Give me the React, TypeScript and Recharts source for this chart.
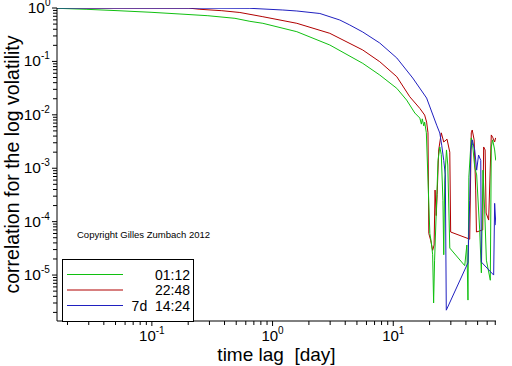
import { LineChart, Line, XAxis, YAxis, Legend } from "recharts";

const FONT = "'Liberation Sans', Arial, sans-serif";

// time lag [day] and correlation values, per series
const lag0112 = [0.01637, 0.0285, 0.0524, 0.0984, 0.171, 0.291, 0.488, 0.649, 0.831, 1.589, 2.98, 5.59, 7.73, 10.7, 12.9, 15.1, 16.6, 17.1, 17.4, 17.9, 18.2, 18.8, 20.1, 20.7, 21.2, 21.6, 22.0, 22.7, 23.5, 24.3, 25.0, 25.8, 26.2, 26.7, 27.6, 28.3, 29.4, 39.1, 40.7, 41.6, 42.3, 44.3, 45.5, 47.3, 49.1, 52.0, 53.7, 55.4, 57.2, 59.1, 63.7, 64.9, 66.6, 69.2, 70.6];
const corr0112 = [0.987, 0.946, 0.89, 0.831, 0.772, 0.717, 0.641, 0.563, 0.517, 0.36, 0.203, 0.092, 0.0556, 0.0313, 0.0189, 0.0108, 0.0087, 0.0067, 0.0084, 0.0062, 0.0073, 0.0046, 6e-5, 4e-5, 2.4e-5, 3e-6, 1.9e-5, 1.45e-4, 1.4e-3, 2.5e-3, 1.8e-3, 2.5e-4, 2.4e-5, 6e-4, 2.2e-3, 1.15e-3, 3.2e-5, 1.5e-5, 3.65e-5, 3.4e-6, 6.8e-4, 3.7e-3, 2.7e-3, 1.05e-3, 7.5e-4, 7e-5, 1.1e-5, 9.2e-4, 1.65e-4, 1.9e-5, 8e-6, 2.5e-3, 3.4e-3, 2.2e-3, 1.4e-3];

const lag2248 = [0.01637, 0.203, 0.25, 0.38, 0.536, 0.831, 1.589, 2.98, 5.59, 7.73, 10.7, 13.7, 16.6, 18.2, 18.9, 19.4, 19.7, 20.4, 21.2, 21.8, 22.2, 22.7, 23.1, 23.8, 25.0, 26.2, 27.9, 29.4, 29.9, 43.0, 44.3, 45.1, 46.8, 48.2, 48.9, 55.1, 56.1, 57.7, 58.8, 61.7, 64.9, 66.6, 69.2, 70.5];
const corr2248 = [0.999, 0.995, 0.946, 0.89, 0.824, 0.687, 0.517, 0.336, 0.1635, 0.0987, 0.0517, 0.0218, 0.0132, 0.0099, 0.0073, 0.0046, 6e-5, 4.5e-5, 2.9e-5, 3.65e-5, 3.9e-4, 1.3e-4, 3.2e-4, 2.2e-3, 4.6e-3, 3.1e-3, 3.5e-3, 2.0e-3, 6.4e-5, 4.7e-5, 4.6e-3, 5.2e-3, 3.4e-3, 3.9e-4, 6.4e-5, 7e-5, 2.5e-3, 2.2e-3, 1.45e-4, 1.07e-4, 4.2e-3, 3.8e-3, 3.1e-3, 3.7e-3];

const lag7d1424 = [0.01637, 0.2, 0.649, 1.217, 1.589, 2.466, 3.606, 4.36, 5.59, 7.73, 10.7, 14.5, 18.9, 22.9, 24.3, 25.2, 26.2, 27.0, 27.5, 41.6, 43.0, 43.9, 45.1, 47.3, 49.1, 50.9, 53.1, 53.7, 67.9, 69.2, 70.8];
const corr7d1424 = [0.999, 0.995, 0.987, 0.917, 0.879, 0.789, 0.596, 0.481, 0.355, 0.221, 0.116, 0.0489, 0.0206, 0.0064, 0.00456, 2.7e-3, 1.4e-3, 7.5e-4, 2.2e-6, 1.7e-5, 2.5e-4, 2.2e-3, 3.4e-3, 2.2e-3, 9.2e-4, 1.77e-3, 1.4e-3, 1.75e-5, 1.0e-5, 2.2e-4, 8.6e-5];

const seriesNames = ["01:12", "22:48", "7d\u00A0\u00A014:24"];
const seriesColors = ["#10c010", "#b00000", "#2020c0"];

const xMajor = [0.1, 1, 10];
const yMajor = [1e-5, 1e-4, 1e-3, 1e-2, 1e-1, 1];
const minorSteps = [2, 3, 4, 5, 6, 7, 8, 9];

const xDomain = [0.01637, 71];
const yDomain = [1.38e-6, 1];

const toPoints = (lags: number[], corr: number[]) =>
  lags.map((x, i) => ({ x, y: corr[i] }));

const data0112 = toPoints(lag0112, corr0112);
const data2248 = toPoints(lag2248, corr2248);
const data7d = toPoints(lag7d1424, corr7d1424);

const withMinors = (majors: number[], dom: number[]) => {
  const out: number[] = [];
  const bases = [majors[0] / 10, ...majors];
  bases.forEach((b) => {
    out.push(b);
    minorSteps.forEach((m) => out.push(b * m));
  });
  return out.filter((v) => v >= dom[0] && v <= dom[1] * 1.0001);
};

const xTicks = withMinors(xMajor, xDomain);
const yTicks = withMinors(yMajor, yDomain);

const isMajor = (v: number) => {
  const l = Math.log10(v);
  return Math.abs(l - Math.round(l)) < 1e-6;
};

const XTick = (props: any) => {
  const { x, y, payload } = props;
  const v = payload.value;
  const major = isMajor(v);
  return (
    <g>
      <line x1={x} x2={x} y1={y} y2={y + (major ? 5 : 4)} stroke="#000" />
      {major && (
        <text x={x} y={y + 20} textAnchor="middle" fontSize={15} fontFamily={FONT} fill="#000">
          10<tspan dy={-7} fontSize={10}>{Math.round(Math.log10(v))}</tspan>
        </text>
      )}
    </g>
  );
};

const YTick = (props: any) => {
  const { x, y, payload } = props;
  const v = payload.value;
  const major = isMajor(v);
  const e = Math.round(Math.log10(v));
  return (
    <g>
      <line x1={x - (major ? 5 : 4)} x2={x} y1={y} y2={y} stroke="#000" />
      {major && (
        <text x={x - 6 - (e < 0 ? 10 : 6)} y={y + 5} textAnchor="end" fontSize={15.5} fontFamily={FONT} fill="#000">
          10
        </text>
      )}
      {major && (
        <text x={x - 6 - (e < 0 ? 10 : 6)} y={y - 2} textAnchor="start" fontSize={10} fontFamily={FONT} fill="#000">
          {e}
        </text>
      )}
    </g>
  );
};

const renderLegend = () => (
  <svg width={132} height={64} style={{ display: "block" }}>
    <rect x={0.5} y={0.5} width={131} height={62} fill="#fff" stroke="#000" />
    {seriesNames.map((name, i) => {
      const cy = 15.5 + i * 15.5;
      return (
        <g key={name}>
          <line x1={5} x2={61} y1={cy} y2={cy} stroke={seriesColors[i]} />
          <text x={128} y={cy + 5} textAnchor="end" fontSize={14} fontFamily={FONT} fill="#000">
            {name}
          </text>
        </g>
      );
    })}
  </svg>
);

export default function App() {
  return (
    <div style={{ position: "absolute", left: 0, top: 0, width: 512, height: 366, background: "#fff" }}>
      <LineChart width={512} height={366} margin={{ top: 8, right: 16, bottom: 0, left: 0 }}>
        <XAxis
          type="number"
          dataKey="x"
          scale="log"
          domain={xDomain}
          allowDataOverflow
          ticks={xTicks}
          interval={0}
          tick={<XTick />}
          tickLine={false}
          tickSize={0}
          tickMargin={0}
          height={45}
          axisLine={{ stroke: "#000" }}
          label={{
            value: "time lag\u00A0 [day]",
            position: "insideBottom",
            offset: 5,
            style: { fontSize: 19, fill: "#000", fontFamily: FONT }
          }}
        />
        <YAxis
          type="number"
          scale="log"
          domain={yDomain}
          allowDataOverflow
          ticks={yTicks}
          interval={0}
          tick={<YTick />}
          tickLine={false}
          tickSize={0}
          tickMargin={0}
          width={57}
          axisLine={{ stroke: "#000" }}
          label={{
            value: "correlation for the log volatility",
            angle: -90,
            position: "insideLeft",
            offset: 12,
            style: { fontSize: 19.5, fill: "#000", fontFamily: FONT, textAnchor: "middle" }
          }}
        />
        <Legend
          layout="vertical"
          verticalAlign="middle"
          align="center"
          content={renderLegend}
          wrapperStyle={{ left: 62, top: 259, width: 132, height: 64 }}
        />
        <Line data={data2248} dataKey="y" name="22:48" type="linear" stroke={seriesColors[1]} strokeWidth={1} dot={false} isAnimationActive={false} />
        <Line data={data0112} dataKey="y" name="01:12" type="linear" stroke={seriesColors[0]} strokeWidth={1} dot={false} isAnimationActive={false} />
        <Line data={data7d} dataKey="y" name="7d 14:24" type="linear" stroke={seriesColors[2]} strokeWidth={1} dot={false} isAnimationActive={false} />
      </LineChart>
      <div
        style={{
          position: "absolute",
          left: 77,
          top: 229,
          fontSize: 9.5,
          lineHeight: "12px",
          fontFamily: FONT,
          color: "#000",
          whiteSpace: "nowrap"
        }}
      >
        Copyright Gilles Zumbach 2012
      </div>
    </div>
  );
}
